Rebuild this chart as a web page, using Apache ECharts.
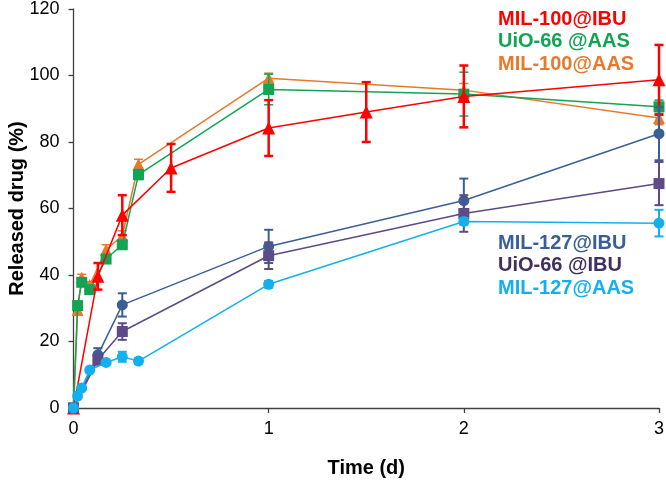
<!DOCTYPE html>
<html>
<head>
<meta charset="utf-8">
<script src="https://cdn.jsdelivr.net/npm/echarts@6/dist/echarts.min.js"></script>
<style>html,body{margin:0;padding:0;background:#fff;}#c{width:666px;height:486px;}</style>
</head>
<body>
<div id="c"></div>
<script>
// Time points (days)
const tAAS = [0, 0.021, 0.042, 0.083, 0.167, 0.25, 0.333, 1, 2, 3];
const tRed = [0, 0.125, 0.25, 0.5, 1, 1.5, 2, 3];
const tIBU = [0, 0.125, 0.25, 1, 2, 3];
const tCyan = [0, 0.021, 0.042, 0.083, 0.167, 0.25, 0.333, 1, 2, 3];

// Released drug (%) and error bars
const mil100IBU = [0, 39.6, 58, 72.2, 84.2, 89, 93.7, 98.7];
const mil100IBUErr = [0, 4, 6, 7.2, 8.4, 9, 9.3, 10.5];
const uio66AAS = [0, 30.8, 37.8, 35.6, 44.8, 49.1, 70.2, 95.8, 94.4, 90.6];
const uio66AASErr = [0, 0.8, 1, 1, 1, 1.2, 1.5, 4.6, 6.6, 2];
const mil100AAS = [0, 29.5, 39.2, 37, 47.6, 51.8, 73.3, 99.2, 95.6, 87.2];
const mil100AASErr = [0, 1.5, 1, 1, 1.5, 1.5, 1.5, 1.5, 2, 2];
const mil127IBU = [0, 16, 31, 48.6, 62.4, 82.5];
const mil127IBUErr = [0, 2, 3.5, 5, 6.6, 8];
const uio66IBU = [0, 14.5, 23, 45.8, 58.5, 67.5];
const uio66IBUErr = [0, 1.5, 2.5, 4, 5.5, 6.5];
const mil127AAS = [0, 3.6, 6, 11.4, 13.7, 15.4, 14.1, 37.2, 56.1, 55.6];
const mil127AASErr = [0, 0.5, 0.5, 0.5, 0.5, 1.5, 0.8, 1, 1, 4];

const yTicks = [0, 20, 40, 60, 80, 100, 120];
const xTicks = [0, 1, 2, 3];

const FONT = 'Liberation Sans, Arial, sans-serif';

function lineSeries(name, t, v, color, symbol, size, z) {
  return {
    name: name, type: 'line', z: z,
    data: t.map((x, i) => [x, v[i]]),
    symbol: symbol, symbolSize: size, showAllSymbol: true,
    lineStyle: { color: color, width: 1.5 },
    itemStyle: { color: color },
    emphasis: { disabled: true },
    animation: false
  };
}
function errSeries(name, t, v, e, color, lw, z) {
  return {
    name: name + ' err', type: 'custom', z: z, silent: true, animation: false,
    encode: { x: 0, y: 1 },
    data: t.map((x, i) => [x, v[i], e[i]]).filter(d => d[2] > 0),
    renderItem: function (params, api) {
      const x = api.value(0), y = api.value(1), d = api.value(2);
      const top = api.coord([x, y + d]);
      const bot = api.coord([x, y - d]);
      const w = 4.5;
      const st = { stroke: color, lineWidth: lw };
      return {
        type: 'group', children: [
          { type: 'line', shape: { x1: top[0], y1: top[1], x2: bot[0], y2: bot[1] }, style: st },
          { type: 'line', shape: { x1: top[0] - w, y1: top[1], x2: top[0] + w, y2: top[1] }, style: st },
          { type: 'line', shape: { x1: bot[0] - w, y1: bot[1], x2: bot[0] + w, y2: bot[1] }, style: st }
        ]
      };
    }
  };
}

const C = {
  red: '#ff0000', green: '#12a454', orange: '#e8782a',
  blue: '#3a5f96', purple: '#5d4a86', cyan: '#12b0ee'
};

const chart = echarts.init(document.getElementById('c'), null, { renderer: 'canvas' });
chart.setOption({
  backgroundColor: '#fff',
  animation: false,
  grid: { left: 73.5, right: 7, top: 9, bottom: 78, containLabel: false, outerBoundsMode: 'none' },
  xAxis: {
    type: 'value', min: 0, max: 3, interval: 1,
    name: 'Time (d)', nameLocation: 'middle', nameGap: 50, nameMoveOverlap: false,
    nameTextStyle: { fontFamily: FONT, fontSize: 20, fontWeight: 'bold', color: '#000' },
    axisLine: { lineStyle: { color: '#404040', width: 1.3 } },
    axisTick: { show: true, length: 5, inside: false, lineStyle: { color: '#404040', width: 1.3 } },
    axisLabel: { fontFamily: FONT, fontSize: 18, color: '#000', margin: 12,
      formatter: v => xTicks.includes(v) ? String(v) : '' },
    splitLine: { show: false }
  },
  yAxis: {
    type: 'value', min: 0, max: 120, interval: 20,
    name: 'Released drug (%)', nameLocation: 'middle', nameGap: 46, nameMoveOverlap: false,
    nameTextStyle: { fontFamily: FONT, fontSize: 20, fontWeight: 'bold', color: '#000' },
    axisLine: { show: true, lineStyle: { color: '#404040', width: 1.3 } },
    axisTick: { show: true, length: 5, inside: false, lineStyle: { color: '#404040', width: 1.3 } },
    axisLabel: { fontFamily: FONT, fontSize: 18, color: '#000', margin: 14,
      formatter: v => yTicks.includes(v) ? String(v) : '' },
    splitLine: { show: false }
  },
  legend: [
    {
      left: 488, top: 3, orient: 'vertical', icon: 'none', itemWidth: 0, itemHeight: 0, itemGap: 0,
      selectedMode: false,
      textStyle: { fontFamily: FONT, fontSize: 20, fontWeight: 'bold', lineHeight: 22.5 },
      data: [
        { name: 'MIL-100@IBU', textStyle: { color: C.red } },
        { name: 'UiO-66 @AAS', textStyle: { color: C.green } },
        { name: 'MIL-100@AAS', textStyle: { color: C.orange } }
      ]
    },
    {
      left: 488, top: 227, orient: 'vertical', icon: 'none', itemWidth: 0, itemHeight: 0, itemGap: 0,
      selectedMode: false,
      textStyle: { fontFamily: FONT, fontSize: 20, fontWeight: 'bold', lineHeight: 22.5 },
      data: [
        { name: 'MIL-127@IBU', textStyle: { color: C.blue } },
        { name: 'UiO-66 @IBU', textStyle: { color: '#3f2f5e' } },
        { name: 'MIL-127@AAS', textStyle: { color: C.cyan } }
      ]
    }
  ],
  series: [
    errSeries('MIL-100@AAS', tAAS, mil100AAS, mil100AASErr, C.orange, 1.5, 1),
    lineSeries('MIL-100@AAS', tAAS, mil100AAS, C.orange, 'triangle', 12, 2),
    errSeries('UiO-66 @AAS', tAAS, uio66AAS, uio66AASErr, C.green, 1.5, 3),
    lineSeries('UiO-66 @AAS', tAAS, uio66AAS, C.green, 'rect', 11, 4),
    errSeries('MIL-100@IBU', tRed, mil100IBU, mil100IBUErr, C.red, 2.5, 5),
    lineSeries('MIL-100@IBU', tRed, mil100IBU, C.red, 'triangle', 13, 6),
    errSeries('MIL-127@IBU', tIBU, mil127IBU, mil127IBUErr, C.blue, 2, 7),
    lineSeries('MIL-127@IBU', tIBU, mil127IBU, C.blue, 'circle', 11, 8),
    errSeries('UiO-66 @IBU', tIBU, uio66IBU, uio66IBUErr, C.purple, 2, 9),
    lineSeries('UiO-66 @IBU', tIBU, uio66IBU, C.purple, 'rect', 11, 10),
    errSeries('MIL-127@AAS', tCyan, mil127AAS, mil127AASErr, C.cyan, 2, 11),
    lineSeries('MIL-127@AAS', tCyan, mil127AAS, C.cyan, 'circle', 11, 12)
  ]
});
</script>
</body>
</html>
